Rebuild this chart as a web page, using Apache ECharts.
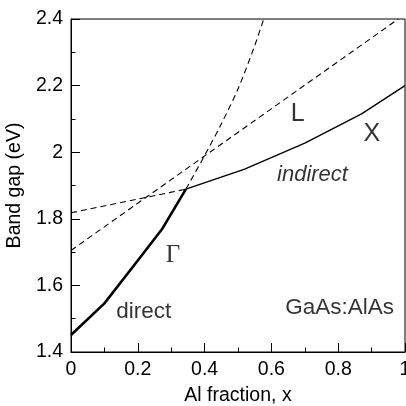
<!DOCTYPE html>
<html>
<head>
<meta charset="utf-8">
<script src="https://cdn.jsdelivr.net/npm/echarts@6/dist/echarts.min.js"></script>
<style>
  html, body { margin: 0; padding: 0; background: #fff; }
  #chart { width: 406px; height: 406px; }
</style>
</head>
<body>
<div id="chart"></div>
<script>
// band edges (Al fraction -> eV)
const gammaX = [0, 0.1, 0.2, 0.274, 0.344]
const gammaY = [1.451, 1.546, 1.675, 1.771, 1.889]
const gammaDashX = [0.344, 0.4, 0.45, 0.5, 0.55, 0.577]
const gammaDashY = [1.889, 1.99, 2.085, 2.19, 2.32, 2.4]
const lDashX = [0, 0.98]
const lDashY = [1.705, 2.4]
const xDashX = [0, 0.344]
const xDashY = [1.818, 1.889]
const xSolidX = [0.344, 0.52, 0.7, 0.87, 1.0]
const xSolidY = [1.889, 1.949, 2.027, 2.115, 2.2]

const xTicks = [0, 0.2, 0.4, 0.6, 0.8, 1]
const yTicks = [1.4, 1.6, 1.8, 2, 2.2, 2.4]

// annotation texts, anchored at data coordinates
const notes = [
  { text: 'Γ', x: 0.305, y: 1.689, font: 'Liberation Serif', size: 25, italic: false },
  { text: 'direct', x: 0.218, y: 1.521, font: 'Liberation Sans', size: 22.5, italic: false },
  { text: 'indirect', x: 0.723, y: 1.932, font: 'Liberation Sans', size: 22, italic: true },
  { text: 'L', x: 0.679, y: 2.114, font: 'Liberation Sans', size: 25, italic: false },
  { text: 'X', x: 0.901, y: 2.055, font: 'Liberation Sans', size: 25, italic: false },
  { text: 'GaAs:AlAs', x: 0.804, y: 1.532, font: 'Liberation Sans', size: 22.5, italic: false }
]

function pairs(xs, ys) {
  return xs.map((x, i) => [x, ys[i]])
}

const chart = echarts.init(document.getElementById('chart'), null, { renderer: 'canvas' })

const axisCommon = {
  type: 'value',
  nameLocation: 'middle',
  nameTextStyle: { color: '#000', fontSize: 19.5, fontFamily: 'Liberation Sans' },
  axisLine: { show: true, lineStyle: { color: '#000', width: 1 } },
  axisTick: { show: true, inside: true, length: 9, lineStyle: { color: '#000', width: 1 } },
  minorTick: { show: true, splitNumber: 2, length: 4.5, lineStyle: { color: '#000', width: 1 } },
  splitLine: { show: false },
  axisLabel: { color: '#000', fontSize: 19.5, fontFamily: 'Liberation Sans', margin: 8 }
}

const lineBase = {
  type: 'line',
  showSymbol: false,
  symbol: 'none',
  silent: true,
  animation: false
}

const dashStyle = { color: '#000', width: 1.1, type: [6, 4] }

const option = {
  backgroundColor: '#fff',
  animation: false,
  grid: {
    left: 71, right: 1, top: 19, bottom: 54,
    outerBoundsMode: 'none',
    containLabel: false,
    show: true, borderColor: '#000', borderWidth: 1, backgroundColor: 'transparent'
  },
  xAxis: Object.assign({}, axisCommon, {
    min: xTicks[0], max: xTicks[xTicks.length - 1], interval: 0.2,
    name: 'Al fraction, x', nameGap: 34
  }),
  yAxis: Object.assign({}, axisCommon, {
    min: yTicks[0], max: yTicks[yTicks.length - 1], interval: 0.2,
    name: 'Band gap (eV)', nameGap: 40
  }),
  series: [
    Object.assign({}, lineBase, {
      data: pairs(gammaX, gammaY),
      lineStyle: { color: '#000', width: 2.6 }
    }),
    Object.assign({}, lineBase, {
      data: pairs(gammaDashX, gammaDashY),
      smooth: 0.3,
      lineStyle: dashStyle
    }),
    Object.assign({}, lineBase, {
      data: pairs(lDashX, lDashY),
      lineStyle: dashStyle
    }),
    Object.assign({}, lineBase, {
      data: pairs(xDashX, xDashY),
      lineStyle: dashStyle
    }),
    Object.assign({}, lineBase, {
      data: pairs(xSolidX, xSolidY),
      lineStyle: { color: '#000', width: 1.4 }
    }),
    {
      type: 'scatter',
      symbolSize: 0,
      silent: true,
      data: notes.map(n => ({
        value: [n.x, n.y],
        label: {
          show: true,
          position: 'inside',
          formatter: n.text,
          color: '#000',
          fontSize: n.size,
          fontFamily: n.font,
          fontStyle: n.italic ? 'italic' : 'normal'
        }
      }))
    }
  ]
}

chart.setOption(option)
</script>
</body>
</html>
